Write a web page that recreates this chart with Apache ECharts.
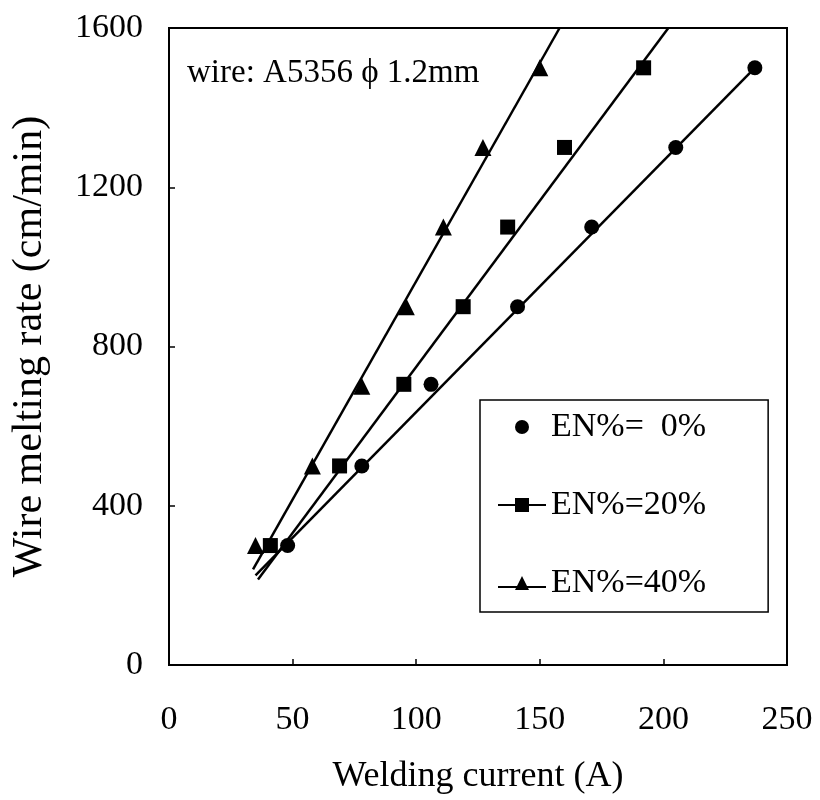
<!DOCTYPE html>
<html>
<head>
<meta charset="utf-8">
<script src="https://cdn.jsdelivr.net/npm/echarts@6/dist/echarts.min.js"></script>
<style>html,body{margin:0;padding:0;background:#fff}#c{width:820px;height:800px}</style>
</head>
<body>
<div id="c"></div>
<script>
// Measured points (Welding current A, Wire melting rate cm/min)
const en0Current  = [48, 78, 106, 141, 171, 205, 237];
const en0Rate     = [300, 500, 705, 900, 1100, 1300, 1500];
const en20Current = [41, 69, 95, 119, 137, 160, 192];
const en20Rate    = [300, 500, 705, 900, 1100, 1300, 1500];
const en40Current = [35, 58, 78, 96, 111, 127, 150];
const en40Rate    = [300, 500, 700, 900, 1100, 1300, 1500];
// Fitted straight lines, endpoints
const fit0Current  = [35, 237];
const fit0Rate     = [225, 1500];
const fit20Current = [36, 202];
const fit20Rate    = [215, 1600];
const fit40Current = [34, 158];
const fit40Rate    = [240, 1600];
const seriesNames = ['EN%=  0%', 'EN%=20%', 'EN%=40%'];
const xTicks = [0, 50, 100, 150, 200, 250];
const yTicks = [0, 400, 800, 1200, 1600];
const noteText = 'wire: A5356 \u03d5 1.2mm';

const FONT = 'Liberation Serif';
const zip = (a, b) => a.map((v, i) => [v, b[i]]);

const chart = echarts.init(document.getElementById('c'), null, {renderer: 'canvas'});
const fitLine = (name, xs, ys) => ({
  name: name, type: 'line', data: zip(xs, ys), symbol: 'none', silent: true,
  lineStyle: {color: '#000', width: 2.5}, z: 2, animation: false
});
const markers = (name, xs, ys, symbol, size) => ({
  name: name, type: 'scatter', data: zip(xs, ys), symbol: symbol, symbolSize: size,
  itemStyle: {color: '#000', opacity: 1}, z: 3, animation: false
});

chart.setOption({
  animation: false,
  backgroundColor: '#fff',
  title: {
    text: noteText, left: 187, top: 57, padding: 0,
    textStyle: {fontFamily: FONT, fontSize: 33, fontWeight: 'normal', color: '#000'}
  },
  grid: {left: 169, right: 33, top: 28, bottom: 132, show: true, borderColor: '#000', borderWidth: 2, containLabel: false},
  xAxis: {
    type: 'value', min: xTicks[0], max: xTicks[xTicks.length - 1], interval: 50,
    name: 'Welding current (A)', nameLocation: 'middle', nameGap: 94,
    nameTextStyle: {fontFamily: FONT, fontSize: 36, color: '#000'},
    axisLine: {lineStyle: {color: '#000', width: 2}},
    axisTick: {inside: true, length: 6, lineStyle: {color: '#000', width: 1.5}},
    axisLabel: {fontFamily: FONT, fontSize: 34, color: '#000', margin: 38, formatter: v => String(v)},
    splitLine: {show: false}
  },
  yAxis: {
    type: 'value', min: yTicks[0], max: yTicks[yTicks.length - 1], interval: 400,
    name: 'Wire melting rate (cm/min)', nameLocation: 'middle', nameGap: 118, nameRotate: 90,
    nameTextStyle: {fontFamily: FONT, fontSize: 42, color: '#000'},
    axisLine: {lineStyle: {color: '#000', width: 2}},
    axisTick: {inside: true, length: 6, lineStyle: {color: '#000', width: 1.5}},
    axisLabel: {fontFamily: FONT, fontSize: 34, color: '#000', margin: 26, formatter: v => String(v)},
    splitLine: {show: false}
  },
  legend: {
    orient: 'vertical', left: 480, top: 400, selectedMode: false,
    borderColor: '#000', borderWidth: 1.5, padding: [10, 62, 12, 18],
    itemWidth: 48, itemHeight: 14, itemGap: 44,
    textStyle: {fontFamily: FONT, fontSize: 34, color: '#000'},
    data: [
      {name: seriesNames[0], icon: 'circle'},
      {name: seriesNames[1], icon: 'path://M0,6H17V0H31V6H48V8H31V14H17V8H0Z'},
      {name: seriesNames[2], icon: 'path://M0,10H19L24,0L29,10H48V12H30L31,14H17L18,12H0Z'}
    ]
  },
  series: [
    fitLine('fit0', fit0Current, fit0Rate),
    fitLine('fit20', fit20Current, fit20Rate),
    fitLine('fit40', fit40Current, fit40Rate),
    markers(seriesNames[0], en0Current, en0Rate, 'circle', 15),
    markers(seriesNames[1], en20Current, en20Rate, 'rect', 15),
    markers(seriesNames[2], en40Current, en40Rate, 'triangle', 17)
  ]
});
</script>
</body>
</html>
